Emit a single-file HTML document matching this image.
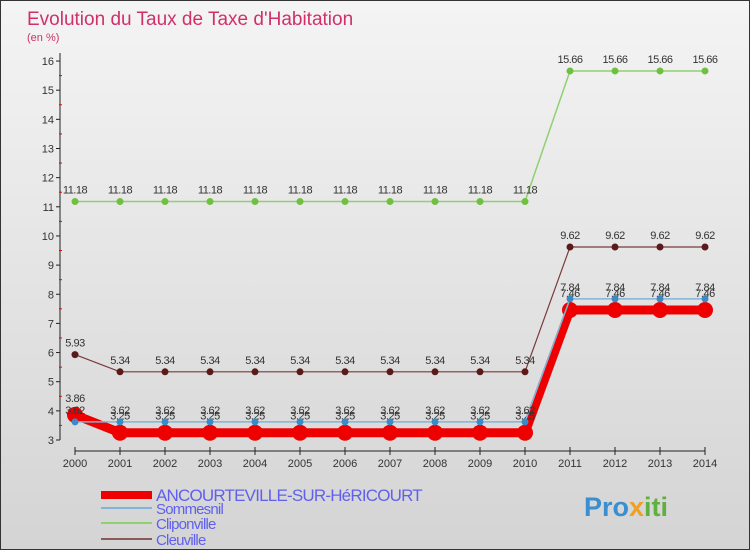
<!DOCTYPE html>
<html><head><meta charset="utf-8"><style>
html,body{margin:0;padding:0}
body{width:750px;height:550px;overflow:hidden;font-family:"Liberation Sans",sans-serif}
#wrap{position:relative;width:748px;height:548px;border:1px solid #333;background:linear-gradient(#f4f4f4,#d4d4d4)}
</style></head><body>
<div id="wrap">
<svg id="chart" width="748" height="548">
<text x="26" y="24" font-size="19" fill="#d0306a">Evolution du Taux de Taxe d'Habitation</text>
<text x="26" y="40" font-size="11" fill="#d0306a">(en %)</text>
<g id="axes"></g><g id="series"></g><g id="legend"></g>
<text x="583" y="515" font-size="27" font-weight="bold" fill="#3a8fd0">Pro<tspan fill="#f0a020">x</tspan><tspan fill="#60b040">iti</tspan></text>
</svg></div>
<script>
const years=[2000,2001,2002,2003,2004,2005,2006,2007,2008,2009,2010,2011,2012,2013,2014];
const yTicks=[3,4,5,6,7,8,9,10,11,12,13,14,15,16];
const ancourteville=[3.86,3.25,3.25,3.25,3.25,3.25,3.25,3.25,3.25,3.25,3.25,7.46,7.46,7.46,7.46];
const sommesnil=[3.62,3.62,3.62,3.62,3.62,3.62,3.62,3.62,3.62,3.62,3.62,7.84,7.84,7.84,7.84];
const cliponville=[11.18,11.18,11.18,11.18,11.18,11.18,11.18,11.18,11.18,11.18,11.18,15.66,15.66,15.66,15.66];
const cleuville=[5.93,5.34,5.34,5.34,5.34,5.34,5.34,5.34,5.34,5.34,5.34,9.62,9.62,9.62,9.62];
const ns="http://www.w3.org/2000/svg";
function X(i){return 74+i*45;}
function Y(v){return 439-(v-3)*29.15;}
function mk(t,a,p){const e=document.createElementNS(ns,t);for(const k in a)e.setAttribute(k,a[k]);p.appendChild(e);return e;}
const axes=document.getElementById('axes');
let yl=mk('line',{x1:59,y1:52,x2:59,y2:439,stroke:'#222'},axes);


yTicks.forEach(v=>{
 mk('line',{x1:55,y1:Y(v),x2:59,y2:Y(v),stroke:'#222'},axes);
 if(v<16)mk('line',{x1:58,y1:Y(v+0.5),x2:61,y2:Y(v+0.5),stroke:'#e00'},axes);
 const t=mk('text',{x:53,y:Y(v)+4,'font-size':11,fill:'#333','text-anchor':'end'},axes);
 t.textContent=v;
 
 
});
let xl=mk('line',{x1:74,y1:450,x2:704,y2:450,stroke:'#222'},axes);


years.forEach((y,i)=>{
 mk('line',{x1:X(i),y1:446,x2:X(i),y2:454,stroke:'#222'},axes);
 const t=mk('text',{x:X(i),y:466,'font-size':11,fill:'#333','text-anchor':'middle'},axes);
 t.textContent=y;
 
 
});
const ser=document.getElementById('series');
function draw(data,color,w,r,ptc,name,dy){
 const g=mk('g',{},ser);
 
 
 mk('polyline',{points:data.map((v,i)=>X(i)+','+Y(v)).join(' '),fill:'none',stroke:color,'stroke-width':w},g);
 data.forEach((v,i)=>{
  const c=mk('circle',{cx:X(i),cy:Y(v),r:r,fill:ptc},g);
  
  
  const t=mk('text',{x:X(i),y:Y(v)+dy,'font-size':11,fill:'#333','text-anchor':'middle','letter-spacing':'-0.5'},g);
  t.textContent=String(v).replace(/0$/,'');
  
  
 });
}
draw(cliponville,'#8fd070',1.5,3.5,'#70c040','series-cliponville',-8);
draw(cleuville,'#7a3a3a',1.2,3.5,'#5a1a1a','series-cleuville',-8);
draw(ancourteville,'#ee0000',9,8,'#ee0000','series-ancourteville',-13);
draw(sommesnil,'#80b4d8',1.5,3.5,'#3a8ac8','series-sommesnil',-8);
const leg=document.getElementById('legend');
[['ANCOURTEVILLE-SUR-HéRICOURT','#ee0000',8,494,17],['Sommesnil','#80b4d8',2,507,15],['Cliponville','#8fd070',2,522,15],['Cleuville','#8a5a5a',2,538,15]].forEach(l=>{
 const g=mk('g',{},leg);
 
 
 mk('line',{x1:100,y1:l[3],x2:151,y2:l[3],stroke:l[1],'stroke-width':l[2]},g);
 const t=mk('text',{x:155,y:l[3]+6,'font-size':l[4],fill:'#6060f0','letter-spacing':'-0.8'},g);
 t.textContent=l[0];
});
</script></body></html>
